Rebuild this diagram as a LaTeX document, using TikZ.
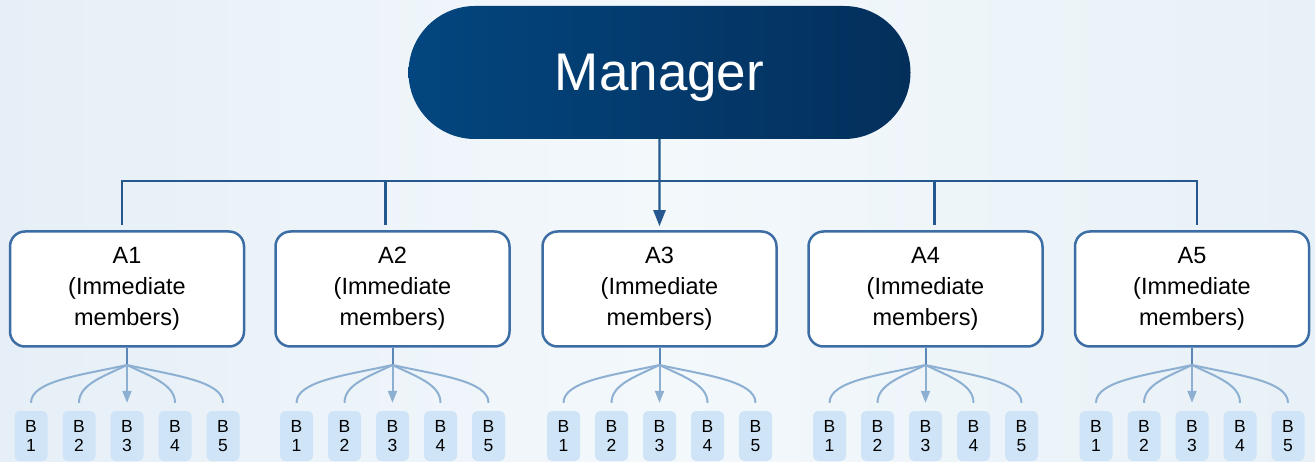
\documentclass[tikz,border=0pt]{standalone}
\usepackage{fontspec}
\setmainfont{Liberation Sans}
\usetikzlibrary{arrows.meta,shapes.misc}

\definecolor{mgrleft}{HTML}{03467F}
\definecolor{mgrright}{HTML}{042F5B}
\definecolor{busblue}{HTML}{25588F}
\definecolor{boxedge}{HTML}{3C6EA5}
\definecolor{subfill}{HTML}{CFE4F7}
\definecolor{fanblue}{HTML}{8DB0D2}
\definecolor{stemblue}{HTML}{5A86B8}
\definecolor{bgleft}{HTML}{E6EFF7}
\definecolor{bgmid}{HTML}{F3F8FB}
\definecolor{bgright}{HTML}{E8F1F7}

\tikzset{
  manager/.style={rounded rectangle,left color=mgrleft,right color=mgrright,
    minimum width=502pt,minimum height=133pt,inner sep=0pt,text depth=0pt,
    text=white,font=\fontsize{53}{60}\selectfont},
  member/.style={draw=boxedge,line width=2.5pt,fill=white,rounded corners=15pt,
    minimum width=234pt,minimum height=115pt,align=center,
    font=\fontsize{23.5}{31}\selectfont},
  subbox/.style={fill=subfill,rounded corners=5pt,minimum width=33pt,
    minimum height=50pt,inner sep=0pt,align=center,
    font=\fontsize{17.5}{19}\selectfont},
  bus/.style={draw=busblue,line width=2.2pt},
  fan/.style={draw=fanblue,line width=2pt},
}

\begin{document}
\begin{tikzpicture}[x=1pt,y=-1pt]
\useasboundingbox (0,0) rectangle (1315,462);
\fill [left color=bgleft,right color=bgright,middle color=bgmid] (0,0) rectangle (1315,462);

\node [manager] (mgr) at (659.5,72.5) {Manager};

\foreach \i/\cx in {1/127,2/392.5,3/659.5,4/925.5,5/1192}{
  \node [member] (a\i) at (\cx,289) {A\i\\(Immediate\\members)};
  \coordinate (j\i) at (\cx,365);
  \draw [draw=stemblue,line width=2pt] (a\i.south) -- (j\i);
  \foreach \k in {1,...,5}
    \node [subbox] (b\i\k) at ({\cx+(\k-3)*48},436) {B\\\k};
  % fan out to the five sub members
  \draw [fan] (j\i) .. controls +(-45,10) and +(0,-22) .. ([yshift=8pt]b\i1.north);
  \draw [fan] (j\i) .. controls +(-25,12) and +(0,-18) .. ([yshift=8pt]b\i2.north);
  \draw [fan] (j\i) .. controls +(25,12) and +(0,-18) .. ([yshift=8pt]b\i4.north);
  \draw [fan] (j\i) .. controls +(45,10) and +(0,-22) .. ([yshift=8pt]b\i5.north);
  \draw [fan,-{Triangle[width=9pt,length=12pt]}] (j\i) -- ([yshift=8pt]b\i3.north);
}

\coordinate (bus) at (659.5,181);
\draw [bus] ([xshift=-5pt,yshift=5pt]a1.north) |- (bus) -| ([xshift=5pt,yshift=5pt]a5.north);
\draw [bus] ([xshift=-7pt,yshift=5pt]a2.north) -- ++(0,-45);
\draw [bus] ([xshift=9pt,yshift=5pt]a4.north) -- ++(0,-45);
\draw [bus,-{Triangle[width=12pt,length=16pt]},shorten >=4pt] (mgr) -- (a3);
\end{tikzpicture}
\end{document}
